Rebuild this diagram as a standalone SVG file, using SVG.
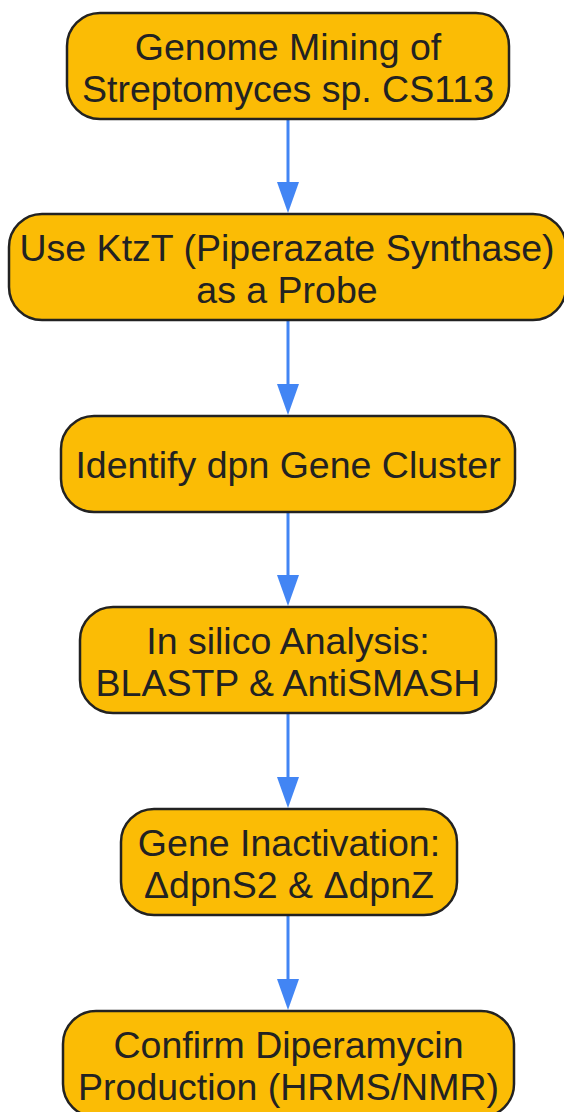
<svg xmlns="http://www.w3.org/2000/svg" width="564" height="1112" viewBox="0 0 564 1112">
<defs>
<style>
.node rect{fill:#FBBC05;stroke:#222;stroke-width:2.5}
.node text{font-family:"Liberation Sans",Arial,sans-serif;font-size:37.5px;fill:#222;text-anchor:middle}
.edge{stroke:#4285F4;stroke-width:3;fill:none}
.head{fill:#4285F4}
</style>
</defs>
<rect width="564" height="1112" fill="#fff"/>
<g id="connectors">
<line class="edge" x1="288" y1="119" x2="288" y2="185"/>
<path class="head" d="M277,182 L299,182 L288,213 Z"/>
<line class="edge" x1="288" y1="320" x2="288" y2="387"/>
<path class="head" d="M277,384 L299,384 L288,415 Z"/>
<line class="edge" x1="288" y1="512" x2="288" y2="578"/>
<path class="head" d="M277,575 L299,575 L288,606 Z"/>
<line class="edge" x1="288" y1="713" x2="288" y2="780"/>
<path class="head" d="M277,777 L299,777 L288,808 Z"/>
<line class="edge" x1="288" y1="915" x2="288" y2="982"/>
<path class="head" d="M277,979 L299,979 L288,1010 Z"/>
</g>
<g id="n1" class="node">
<rect x="67" y="13" width="442" height="106" rx="33"/>
<text x="288" y="60">Genome Mining of</text>
<text x="288" y="102">Streptomyces sp. CS113</text>
</g>
<g id="n2" class="node">
<rect x="9" y="214" width="557" height="106" rx="33"/>
<text x="287" y="261">Use KtzT (Piperazate Synthase)</text>
<text x="287" y="303">as a Probe</text>
</g>
<g id="n3" class="node">
<rect x="61" y="416" width="454" height="96" rx="33"/>
<text x="288" y="478">Identify dpn Gene Cluster</text>
</g>
<g id="n4" class="node">
<rect x="80" y="607" width="416" height="106" rx="33"/>
<text x="288" y="654">In silico Analysis:</text>
<text x="288" y="696">BLASTP &amp; AntiSMASH</text>
</g>
<g id="n5" class="node">
<rect x="121" y="809" width="336" height="106" rx="33"/>
<text x="289" y="856">Gene Inactivation:</text>
<text x="289" y="898">ΔdpnS2 &amp; ΔdpnZ</text>
</g>
<g id="n6" class="node">
<rect x="63" y="1011" width="451" height="106" rx="33"/>
<text x="288.5" y="1058">Confirm Diperamycin</text>
<text x="288.5" y="1100">Production (HRMS/NMR)</text>
</g>
</svg>
